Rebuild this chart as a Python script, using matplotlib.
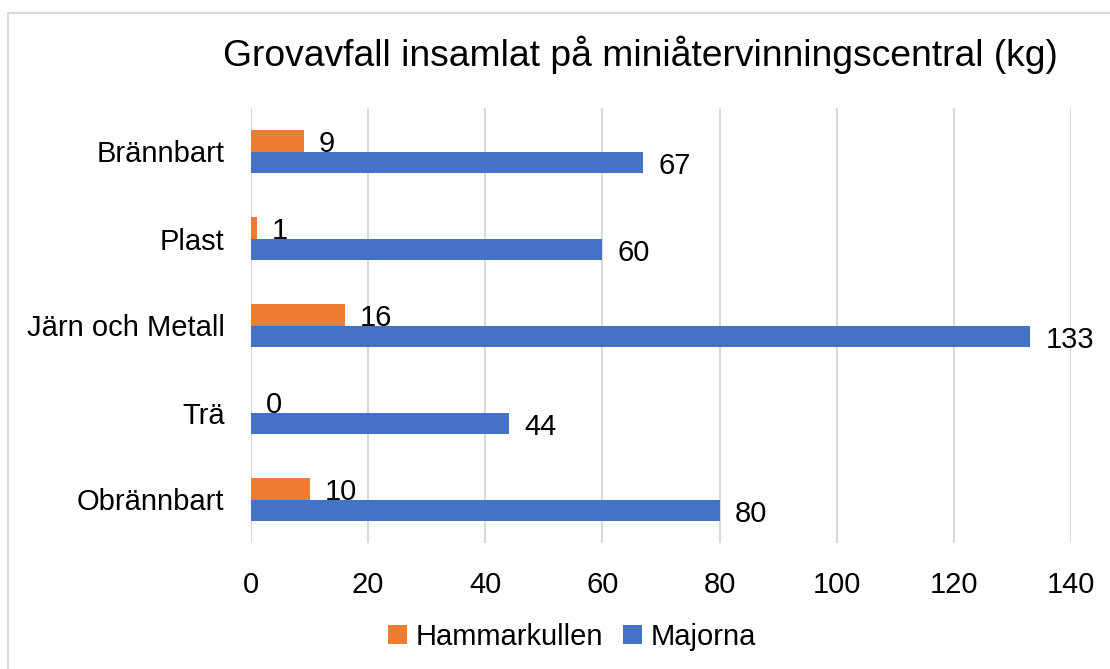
import matplotlib

matplotlib.use("Agg")
import matplotlib.pyplot as plt
from matplotlib.patches import Rectangle

plt.rcParams["font.family"] = ["Liberation Sans", "DejaVu Sans"]

# data (top to bottom)
categories = ["Brännbart", "Plast", "Järn och Metall", "Trä", "Obrännbart"]
hammarkullen = [9, 1, 16, 0, 10]
majorna = [67, 60, 133, 44, 80]
x_ticks = [0, 20, 40, 60, 80, 100, 120, 140]

ORANGE = "#ED7D31"
BLUE = "#4472C4"
GRID = "#D9D9D9"

fig = plt.figure(figsize=(11.1, 6.69), dpi=100)
ax = fig.add_axes([251 / 1110, 126 / 669, 820 / 1110, 435 / 669])

pos = list(range(len(categories)))
h = 0.25
orange_y = [p - h / 2 for p in pos]
blue_y = [p + h / 2 for p in pos]

bars_h = ax.barh(orange_y, hammarkullen, height=h, color=ORANGE, label="Hammarkullen", zorder=3)
bars_m = ax.barh(blue_y, majorna, height=h, color=BLUE, label="Majorna", zorder=3)

# value labels, a touch below the bar centre like the original
for ys, vals in ((orange_y, hammarkullen), (blue_y, majorna)):
    for y, v in zip(ys, vals):
        ax.annotate(str(v), (v, y), xytext=(11, -2.5), textcoords="offset points",
                    ha="left", va="center", fontsize=21, color="black", zorder=4)

ax.set_xlim(0, 140)
ax.set_ylim(len(categories) - 0.5, -0.5)
ax.set_xticks(x_ticks)
ax.set_yticks(pos)
ax.set_yticklabels(categories)
ax.tick_params(axis="both", length=0, labelsize=21, colors="black")
ax.tick_params(axis="x", pad=20)
ax.tick_params(axis="y", pad=19)
ax.grid(axis="x", color=GRID, linewidth=1.5, zorder=0)
for s in ax.spines.values():
    s.set_visible(False)

fig.text(640 / 1110, 1 - 55 / 669, "Grovavfall insamlat på miniåtervinningscentral (kg)",
         ha="center", va="center", fontsize=26.8)

fig.legend(handles=[bars_h, bars_m], loc="center", bbox_to_anchor=(572 / 1110, 1 - 637 / 669),
           ncol=2, frameon=False, fontsize=21, handlelength=0.65, handleheight=0.65,
           handletextpad=0.3, columnspacing=0.7)

# chart border (only left and top edges are inside the image)
fig.patches.append(Rectangle((8 / 1110, -0.1), 1.2, 1 - 13 / 669 + 0.1, transform=fig.transFigure,
                             fill=False, edgecolor=GRID, linewidth=1.5))

fig.savefig("out.png", dpi=100)
